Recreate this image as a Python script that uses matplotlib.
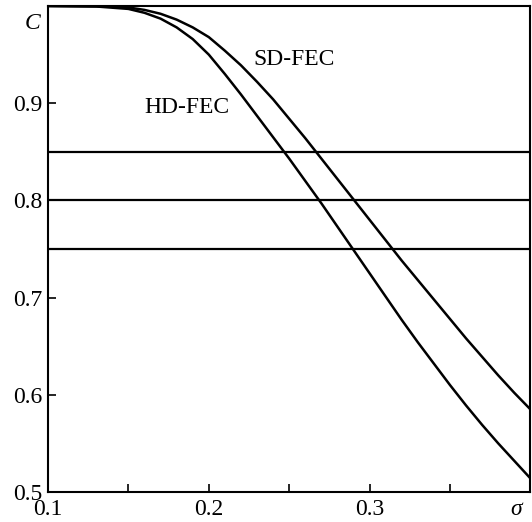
import matplotlib
matplotlib.use('Agg')
import matplotlib.pyplot as plt

# values
sigma_hd = [0.10, 0.13, 0.15, 0.16, 0.17, 0.18, 0.19, 0.20, 0.21, 0.22, 0.23, 0.24,
            0.25, 0.26, 0.27, 0.28, 0.29, 0.30, 0.31, 0.32, 0.33, 0.34, 0.35, 0.36,
            0.37, 0.38, 0.39, 0.40]
cap_hd = [1.000, 0.9995, 0.997, 0.993, 0.987, 0.978, 0.966, 0.950, 0.930, 0.909,
          0.887, 0.865, 0.843, 0.820, 0.797, 0.773, 0.749, 0.725, 0.701, 0.677,
          0.654, 0.632, 0.610, 0.589, 0.569, 0.550, 0.532, 0.514]

sigma_sd = [0.10, 0.14, 0.15, 0.16, 0.17, 0.18, 0.19, 0.20, 0.21, 0.22, 0.23, 0.24,
            0.25, 0.26, 0.27, 0.28, 0.29, 0.30, 0.31, 0.32, 0.33, 0.34, 0.35, 0.36,
            0.37, 0.38, 0.39, 0.40]
cap_sd = [1.000, 0.9995, 0.9985, 0.996, 0.992, 0.986, 0.978, 0.968, 0.954, 0.939,
          0.922, 0.904, 0.884, 0.864, 0.843, 0.822, 0.801, 0.780, 0.759, 0.738,
          0.718, 0.698, 0.678, 0.658, 0.639, 0.620, 0.602, 0.585]

thresholds = [0.85, 0.80, 0.75]

x_ticks = [0.1, 0.15, 0.2, 0.25, 0.3, 0.35]
x_labels = ['0.1', '', '0.2', '', '0.3', '']
y_ticks = [0.5, 0.6, 0.7, 0.8, 0.9]
y_labels = ['0.5', '0.6', '0.7', '0.8', '0.9']

plt.rcParams['font.family'] = ['Liberation Serif', 'DejaVu Serif']

fig = plt.figure(figsize=(5.32, 5.22), dpi=100)
ax = fig.add_axes([0.0902, 0.0575, 0.9068, 0.931])

for t in thresholds:
    ax.axhline(t, color='black', linewidth=1.6)

ax.plot(sigma_hd, cap_hd, color='black', linewidth=1.8)
ax.plot(sigma_sd, cap_sd, color='black', linewidth=1.8)

ax.text(0.1863, 0.896, 'HD-FEC', fontsize=17, ha='center', va='center')
ax.text(0.2528, 0.945, 'SD-FEC', fontsize=17, ha='center', va='center')

ax.set_xlim(0.1, 0.4)
ax.set_ylim(0.5, 1.0)
ax.set_xticks(x_ticks)
ax.set_xticklabels(x_labels)
ax.set_yticks(y_ticks)
ax.set_yticklabels(y_labels)
ax.tick_params(direction='in', length=6, width=1.2, labelsize=17, colors='black')
ax.tick_params(axis='x', pad=5)
ax.tick_params(axis='y', pad=4)

for s in ax.spines.values():
    s.set_linewidth(1.5)

# axis letters
ax.text(-0.033, 0.963, 'C', fontsize=17, style='italic', ha='center', va='center',
        transform=ax.transAxes)
ax.text(0.971, -0.037, 'σ', fontsize=17, style='italic', ha='center', va='center',
        transform=ax.transAxes)

plt.savefig('out.png', dpi=100)
